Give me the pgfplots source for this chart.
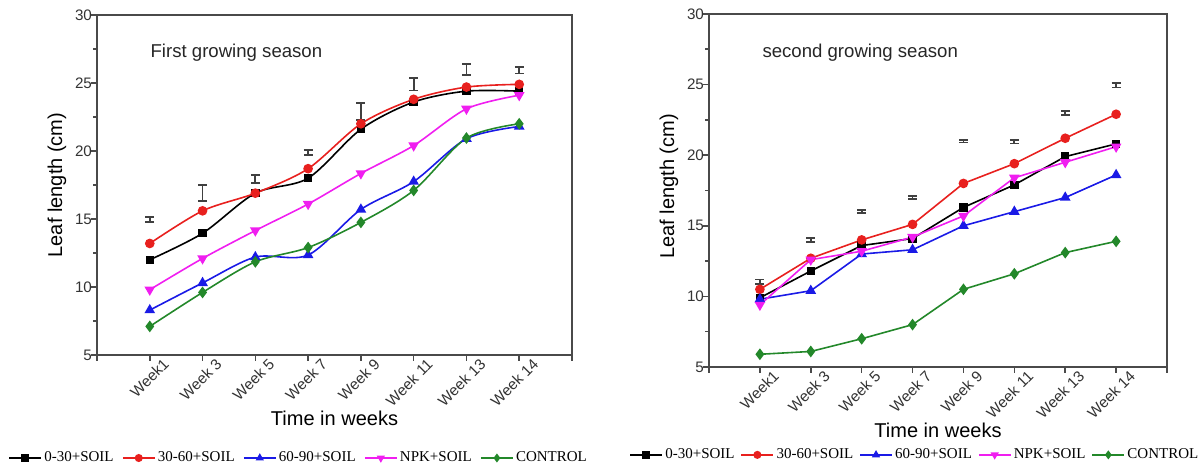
\documentclass[border=0pt]{standalone}
\usepackage{pgfplots}
\pgfplotsset{compat=1.18}
\usepackage{fontspec}
\setmainfont{Liberation Sans}
\newfontfamily\legfont{Liberation Serif}

\definecolor{axgray}{HTML}{4A4A4A}
\definecolor{cred}{HTML}{E8201E}
\definecolor{cblue}{HTML}{1A1AE6}
\definecolor{cmag}{HTML}{F01EF0}
\definecolor{cgreen}{HTML}{23882A}

\pgfplotsset{
  leafaxis/.style={
    scale only axis,
    xmin=-1, xmax=8, ymin=5, ymax=30,
    xtick={-1,0,...,8},
    xticklabels={,Week1,Week 3,Week 5,Week 7,Week 9,Week 11,Week 13,Week 14,},
    ytick={5,10,...,30},
    minor y tick num=1,
    xtick pos=bottom, ytick pos=left,
    tick align=outside,
    major tick length=3pt, minor tick length=2pt,
    axis line style={axgray, line width=1pt},
    every tick/.style={axgray, line width=0.8pt},
    /pgf/number format/assume math mode=true,
    tick label style={font=\fontsize{7.6}{9}\selectfont, text=black!80},
    xticklabel style={rotate=45, anchor=east, xshift=9pt, yshift=-6pt},
    yticklabel style={xshift=4pt},
    label style={font=\fontsize{9}{10}\selectfont, text=black!85},
    every axis y label/.style={at={(rel axis cs:0,0.5)}, xshift=-20pt, rotate=90, anchor=center},
    every axis x label/.style={at={(rel axis cs:0.5,0)}, anchor=center, yshift=-31.5pt},
    ylabel={Leaf length (cm)},
    xlabel={Time in weeks},
    legend columns=5,
    legend cell align=left,
    legend style={draw=none, fill=none, font=\legfont\fontsize{7.5}{8}\selectfont,
      inner sep=0pt, nodes={inner sep=1.2pt}},
    legend image code/.code={\draw[mark repeat=2,mark phase=2, mark size=1.6pt]
      plot coordinates {(0cm,0cm)(0.28cm,0cm)(0.56cm,0cm)};},
    every axis plot/.append style={line width=0.8pt, mark size=2pt},
  },
  errbar/.style={draw=none, mark=none, forget plot,
    error bars/.cd, y dir=both, y explicit,
    error bar style={draw=black!75, line width=0.9pt},
    error mark options={rotate=90, mark size=2.2pt, draw=black!75, line width=0.9pt}},
}

\begin{document}
\begin{tikzpicture}
\path[use as bounding box] (0,0) rectangle (602pt,234.5pt);

% first season
\begin{axis}[leafaxis, at={(48.5pt,57pt)}, anchor=south west,
  width=237.5pt, height=170pt,
  legend style={at={(0.425,-0.303)}, anchor=center,
    /tikz/every even column/.append style={column sep=3pt}}]
\addplot[black, smooth, mark=square*, mark size=1.7pt] coordinates {
  (0,12.0) (1,13.95) (2,16.9) (3,18.0) (4,21.6) (5,23.6) (6,24.4) (7,24.4)};
\addlegendentry{0-30+SOIL}
\addplot[cred, smooth, mark=*] coordinates {
  (0,13.2) (1,15.6) (2,16.9) (3,18.7) (4,22.0) (5,23.8) (6,24.7) (7,24.9)};
\addlegendentry{30-60+SOIL}
\addplot[cblue, smooth, mark=triangle*, mark size=2.3pt] coordinates {
  (0,8.3) (1,10.3) (2,12.2) (3,12.35) (4,15.7) (5,17.75) (6,20.9) (7,21.8)};
\addlegendentry{60-90+SOIL}
\addplot[cmag, smooth, mark=triangle*, mark size=2.3pt, mark options={rotate=180}] coordinates {
  (0,9.8) (1,12.1) (2,14.15) (3,16.1) (4,18.35) (5,20.4) (6,23.1) (7,24.1)};
\addlegendentry{NPK+SOIL}
\addplot[cgreen, smooth, mark=diamond*, mark size=2.3pt] coordinates {
  (0,7.1) (1,9.6) (2,11.85) (3,12.9) (4,14.75) (5,17.1) (6,20.95) (7,22.0)};
\addlegendentry{CONTROL}
\addplot[errbar] coordinates {
  (0,14.95) +- (0,0.2)
  (1,16.9) +- (0,0.6)
  (2,17.95) +- (0,0.3)
  (3,19.9) +- (0,0.2)
  (4,22.9) +- (0,0.6)
  (5,24.9) +- (0,0.45)
  (6,26.0) +- (0,0.4)
  (7,25.95) +- (0,0.25)};
\node[anchor=west, inner sep=0pt, font=\fontsize{9.3}{10}\selectfont, text=black!85] at (rel axis cs:0.112,0.888) {First growing season};
\end{axis}

% second season
\begin{axis}[leafaxis, at={(354.5pt,51pt)}, anchor=south west,
  width=229pt, height=176.5pt,
  every axis y label/.append style={xshift=2pt},
  legend style={at={(0.45,-0.249)}, anchor=center,
    /tikz/every even column/.append style={column sep=1.8pt}}]
\addplot[black, mark=square*, mark size=1.7pt] coordinates {
  (0,9.9) (1,11.8) (2,13.6) (3,14.1) (4,16.3) (5,17.9) (6,19.9) (7,20.8)};
\addlegendentry{0-30+SOIL}
\addplot[cred, mark=*] coordinates {
  (0,10.5) (1,12.7) (2,14.0) (3,15.1) (4,18.0) (5,19.4) (6,21.2) (7,22.9)};
\addlegendentry{30-60+SOIL}
\addplot[cblue, mark=triangle*, mark size=2.3pt] coordinates {
  (0,9.8) (1,10.4) (2,13.0) (3,13.3) (4,15.0) (5,16.0) (6,17.0) (7,18.6)};
\addlegendentry{60-90+SOIL}
\addplot[cmag, mark=triangle*, mark size=2.3pt, mark options={rotate=180}] coordinates {
  (0,9.4) (1,12.6) (2,13.2) (3,14.2) (4,15.7) (5,18.4) (6,19.5) (7,20.6)};
\addlegendentry{NPK+SOIL}
\addplot[cgreen, mark=diamond*, mark size=2.3pt] coordinates {
  (0,5.9) (1,6.1) (2,7.0) (3,8.0) (4,10.5) (5,11.6) (6,13.1) (7,13.9)};
\addlegendentry{CONTROL}
\addplot[errbar] coordinates {
  (0,11.05) +- (0,0.15)
  (1,14.0) +- (0,0.12)
  (2,16.0) +- (0,0.12)
  (3,17.0) +- (0,0.12)
  (4,21.0) +- (0,0.1)
  (5,20.95) +- (0,0.12)
  (6,23.0) +- (0,0.15)
  (7,24.95) +- (0,0.15)};
\node[anchor=west, inner sep=0pt, font=\fontsize{9.3}{10}\selectfont, text=black!85] at (rel axis cs:0.116,0.89) {second growing season};
\end{axis}
\end{tikzpicture}
\end{document}
